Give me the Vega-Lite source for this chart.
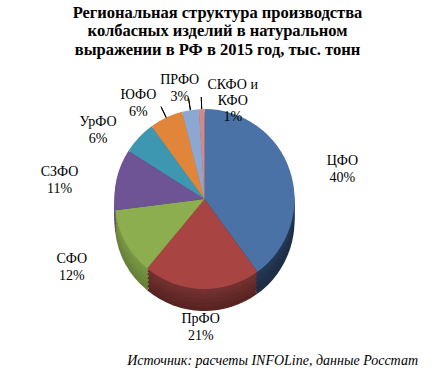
{
  "$schema": "https://vega.github.io/schema/vega-lite/v6.json",
  "width": 435,
  "height": 373,
  "autosize": {"type": "fit", "contains": "padding"},
  "padding": {"top": 4, "left": 5, "right": 5, "bottom": 5},
  "background": "white",
  "title": {
    "text": ["Региональная структура производства", "колбасных изделий в натуральном", "выражении  в РФ в 2015 год, тыс. тонн"],
    "font": "Liberation Serif",
    "fontSize": 16.5,
    "fontWeight": "bold",
    "color": "#000000",
    "lineHeight": 18.5,
    "anchor": "middle",
    "offset": 4
  },
  "data": {
    "values": [
      {"idx": 1, "region": "ЦФО", "pct": 40, "label": "ЦФО|40%"},
      {"idx": 2, "region": "ПрФО", "pct": 21, "label": "ПрФО|21%"},
      {"idx": 3, "region": "СФО", "pct": 12, "label": "СФО|12%"},
      {"idx": 4, "region": "СЗФО", "pct": 11, "label": "СЗФО|11%"},
      {"idx": 5, "region": "УрФО", "pct": 6, "label": "УрФО|6%"},
      {"idx": 6, "region": "ЮФО", "pct": 6, "label": "ЮФО|6%"},
      {"idx": 7, "region": "ПРФО", "pct": 3, "label": "ПРФО|3%"},
      {"idx": 8, "region": "СКФО и КФО", "pct": 1, "label": "СКФО и|КФО|1%"}
    ]
  },
  "layer": [
    {
      "mark": {"type": "arc", "radius": 90, "x": {"expr": "width/2 - 13"}, "y": {"expr": "height/2 - 16 + 22"}},
      "encoding": {
        "theta": {"field": "pct", "type": "quantitative", "stack": true},
        "order": {"field": "idx", "type": "quantitative"},
        "color": {"field": "region", "type": "nominal", "legend": null,
          "scale": {"domain": ["ЦФО", "ПрФО", "СФО", "СЗФО", "УрФО", "ЮФО", "ПРФО", "СКФО и КФО"],
            "range": ["#1E2E47", "#5A2321", "#67813A", "#4A3866", "#2A6B7D", "#A05A20", "#60789E", "#8E5959"]}}
      }
    },
    {
      "mark": {"type": "arc", "radius": 90, "x": {"expr": "width/2 - 13"}, "y": {"expr": "height/2 - 16 + 18"}},
      "encoding": {
        "theta": {"field": "pct", "type": "quantitative", "stack": true},
        "order": {"field": "idx", "type": "quantitative"},
        "color": {"field": "region", "type": "nominal", "legend": null,
          "scale": {"domain": ["ЦФО", "ПрФО", "СФО", "СЗФО", "УрФО", "ЮФО", "ПРФО", "СКФО и КФО"],
            "range": ["#1E2E47", "#5E2624", "#6A853B", "#4C3A69", "#2B6E80", "#A35C21", "#627BA1", "#915B5B"]}}
      }
    },
    {
      "mark": {"type": "arc", "radius": 90, "x": {"expr": "width/2 - 13"}, "y": {"expr": "height/2 - 16 + 14"}},
      "encoding": {
        "theta": {"field": "pct", "type": "quantitative", "stack": true},
        "order": {"field": "idx", "type": "quantitative"},
        "color": {"field": "region", "type": "nominal", "legend": null,
          "scale": {"domain": ["ЦФО", "ПрФО", "СФО", "СЗФО", "УрФО", "ЮФО", "ПРФО", "СКФО и КФО"],
            "range": ["#1F304A", "#632927", "#6E8A3D", "#4F3C6C", "#2C7183", "#A65E22", "#657EA4", "#945E5E"]}}
      }
    },
    {
      "mark": {"type": "arc", "radius": 90, "x": {"expr": "width/2 - 13"}, "y": {"expr": "height/2 - 16 + 10"}},
      "encoding": {
        "theta": {"field": "pct", "type": "quantitative", "stack": true},
        "order": {"field": "idx", "type": "quantitative"},
        "color": {"field": "region", "type": "nominal", "legend": null,
          "scale": {"domain": ["ЦФО", "ПрФО", "СФО", "СЗФО", "УрФО", "ЮФО", "ПРФО", "СКФО и КФО"],
            "range": ["#21334F", "#682C2A", "#728E3F", "#523F70", "#2E7487", "#AA6124", "#6982A8", "#986262"]}}
      }
    },
    {
      "mark": {"type": "arc", "radius": 90, "x": {"expr": "width/2 - 13"}, "y": {"expr": "height/2 - 16 + 6"}},
      "encoding": {
        "theta": {"field": "pct", "type": "quantitative", "stack": true},
        "order": {"field": "idx", "type": "quantitative"},
        "color": {"field": "region", "type": "nominal", "legend": null,
          "scale": {"domain": ["ЦФО", "ПрФО", "СФО", "СЗФО", "УрФО", "ЮФО", "ПРФО", "СКФО и КФО"],
            "range": ["#233654", "#6E2F2D", "#769342", "#554173", "#30778A", "#AD6326", "#6C85AB", "#9B6565"]}}
      }
    },
    {
      "mark": {"type": "arc", "radius": 90, "x": {"expr": "width/2 - 13"}, "y": {"expr": "height/2 - 16 + 3"}},
      "encoding": {
        "theta": {"field": "pct", "type": "quantitative", "stack": true},
        "order": {"field": "idx", "type": "quantitative"},
        "color": {"field": "region", "type": "nominal", "legend": null,
          "scale": {"domain": ["ЦФО", "ПрФО", "СФО", "СЗФО", "УрФО", "ЮФО", "ПРФО", "СКФО и КФО"],
            "range": ["#253858", "#723130", "#799644", "#574376", "#327A8D", "#B06528", "#6F88AE", "#9E6868"]}}
      }
    },
    {
      "mark": {"type": "arc", "radius": 90, "x": {"expr": "width/2 - 13"}, "y": {"expr": "height/2 - 16"}},
      "encoding": {
        "theta": {"field": "pct", "type": "quantitative", "stack": true},
        "order": {"field": "idx", "type": "quantitative"},
        "color": {"field": "region", "type": "nominal", "legend": null,
          "scale": {"domain": ["ЦФО", "ПрФО", "СФО", "СЗФО", "УрФО", "ЮФО", "ПРФО", "СКФО и КФО"],
            "range": ["#4A72A6", "#A84543", "#8DAE4E", "#6E5494", "#3E97B0", "#E0853A", "#8CA8D2", "#D08A8A"]}}
      }
    },
    {
      "mark": {"type": "arc", "radius": 102, "radius2": 90, "padAngle": 1.2, "filled": false, "stroke": "#000000", "strokeWidth": 1,
        "x": {"expr": "width/2 - 13"}, "y": {"expr": "height/2 - 16"}},
      "encoding": {
        "theta": {"field": "pct", "type": "quantitative", "stack": true},
        "order": {"field": "idx", "type": "quantitative"},
        "strokeOpacity": {"condition": {"test": "datum.idx >= 6", "value": 1}, "value": 0}
      }
    },
    {
      "mark": {"type": "text", "radius": 124, "dx": 20, "x": {"expr": "width/2 - 13"}, "y": {"expr": "height/2 - 16"},
        "font": "Liberation Serif", "fontSize": 14, "lineBreak": "|", "lineHeight": 17, "color": "#000000"},
      "encoding": {
        "theta": {"field": "pct", "type": "quantitative", "stack": true},
        "order": {"field": "idx", "type": "quantitative"},
        "text": {"condition": {"test": "datum.idx == 1", "field": "label"}, "value": ""}
      }
    },
    {
      "mark": {"type": "text", "radius": 120, "x": {"expr": "width/2 - 13"}, "y": {"expr": "height/2 - 16"},
        "font": "Liberation Serif", "fontSize": 14, "lineBreak": "|", "lineHeight": 17, "color": "#000000"},
      "encoding": {
        "theta": {"field": "pct", "type": "quantitative", "stack": true},
        "order": {"field": "idx", "type": "quantitative"},
        "text": {"condition": {"test": "datum.idx == 2", "field": "label"}, "value": ""}
      }
    },
    {
      "mark": {"type": "text", "radius": 124, "dx": -24, "x": {"expr": "width/2 - 13"}, "y": {"expr": "height/2 - 16"},
        "font": "Liberation Serif", "fontSize": 14, "lineBreak": "|", "lineHeight": 17, "color": "#000000"},
      "encoding": {
        "theta": {"field": "pct", "type": "quantitative", "stack": true},
        "order": {"field": "idx", "type": "quantitative"},
        "text": {"condition": {"test": "datum.idx == 3 || datum.idx == 4", "field": "label"}, "value": ""}
      }
    },
    {
      "mark": {"type": "text", "radius": 124, "dx": -16, "dy": 8, "x": {"expr": "width/2 - 13"}, "y": {"expr": "height/2 - 16"},
        "font": "Liberation Serif", "fontSize": 14, "lineBreak": "|", "lineHeight": 17, "color": "#000000"},
      "encoding": {
        "theta": {"field": "pct", "type": "quantitative", "stack": true},
        "order": {"field": "idx", "type": "quantitative"},
        "text": {"condition": {"test": "datum.idx == 5", "field": "label"}, "value": ""}
      }
    },
    {
      "mark": {"type": "text", "radius": 120, "dx": -15, "dy": 5, "x": {"expr": "width/2 - 13"}, "y": {"expr": "height/2 - 16"},
        "font": "Liberation Serif", "fontSize": 14, "lineBreak": "|", "lineHeight": 17, "color": "#000000"},
      "encoding": {
        "theta": {"field": "pct", "type": "quantitative", "stack": true},
        "order": {"field": "idx", "type": "quantitative"},
        "text": {"condition": {"test": "datum.idx == 6", "field": "label"}, "value": ""}
      }
    },
    {
      "mark": {"type": "text", "radius": 120, "dx": -6, "x": {"expr": "width/2 - 13"}, "y": {"expr": "height/2 - 16"},
        "font": "Liberation Serif", "fontSize": 14, "lineBreak": "|", "lineHeight": 17, "color": "#000000"},
      "encoding": {
        "theta": {"field": "pct", "type": "quantitative", "stack": true},
        "order": {"field": "idx", "type": "quantitative"},
        "text": {"condition": {"test": "datum.idx == 7", "field": "label"}, "value": ""}
      }
    },
    {
      "mark": {"type": "text", "radius": 120, "dx": 32, "dy": 6, "x": {"expr": "width/2 - 13"}, "y": {"expr": "height/2 - 16"},
        "font": "Liberation Serif", "fontSize": 14, "lineBreak": "|", "lineHeight": 16, "color": "#000000"},
      "encoding": {
        "theta": {"field": "pct", "type": "quantitative", "stack": true},
        "order": {"field": "idx", "type": "quantitative"},
        "text": {"condition": {"test": "datum.idx == 8", "field": "label"}, "value": ""}
      }
    },
    {
      "data": {"values": [{"t": "Источник: расчеты INFOLine, данные Росстат"}]},
      "mark": {"type": "text", "x": {"expr": "width - 12"}, "y": {"expr": "height - 3"},
        "align": "right", "baseline": "alphabetic", "font": "Liberation Serif", "fontStyle": "italic", "fontSize": 14, "color": "#000000"},
      "encoding": {"text": {"field": "t", "type": "nominal"}}
    }
  ],
  "resolve": {"scale": {"color": "independent"}},
  "config": {"view": {"stroke": null}, "text": {"font": "Liberation Serif"}}
}
